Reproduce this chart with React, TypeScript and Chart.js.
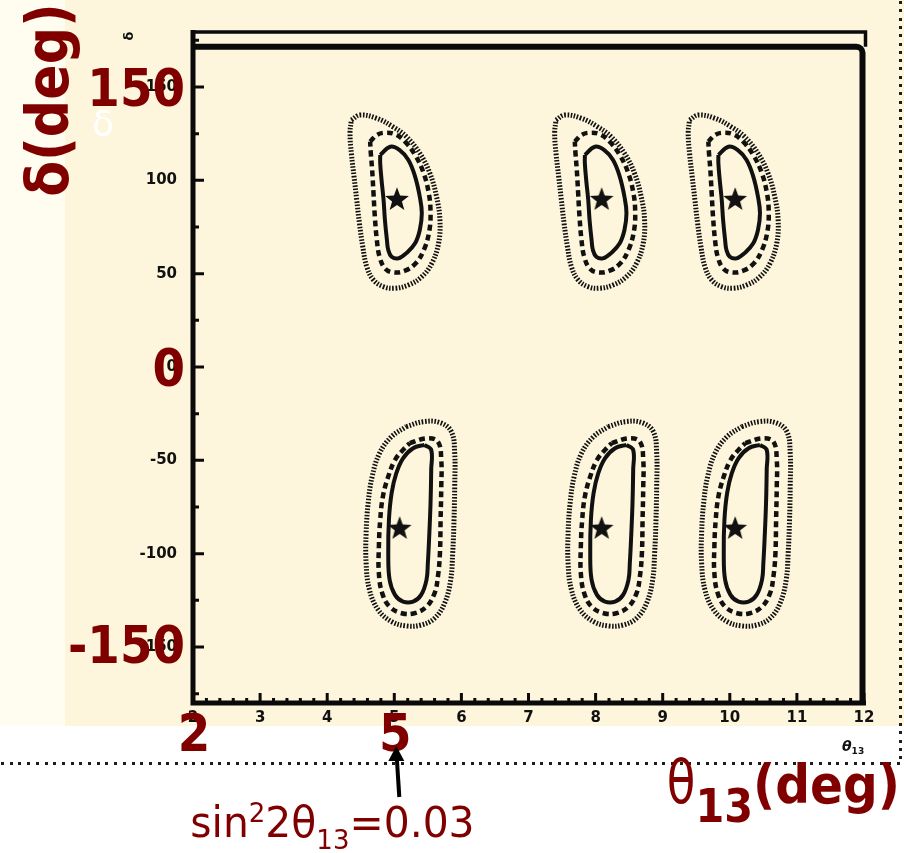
import React, { useEffect, useRef } from "react";
import { Chart, registerables } from "chart.js";

Chart.register(...registerables);

// Axis ranges and tick values
const xRange = [2, 12];
const yRange = [-180, 180];
const xTicks = [2, 3, 4, 5, 6, 7, 8, 9, 10, 11, 12];
const yTicks = [-150, -100, -50, 0, 50, 100, 150];
const yMinorTicks = [-175, -125, -75, -25, 25, 75, 125, 175];
const xMinorStep = 0.2;
const yFrameInner = 171.5;

// Best-fit points (theta13, delta) of the degenerate solutions
const upperTheta = [5.04, 8.09, 10.08];
const lowerTheta = [5.08, 8.09, 10.08];
const upperDelta = 90;
const lowerDelta = -86.2;

// Contours as offsets (d theta13, d delta) from the best-fit point: upper row
const upperInner: [number, number][] = [
  [-0.25, 23.6], [-0.1, 28.0], [0.04, 26.2], [0.17, 20.9], [0.27, 12.0], [0.34, 1.2],
  [0.37, -7.7], [0.34, -16.6], [0.27, -23.7], [0.14, -29.0], [0.02, -31.8], [-0.08, -30.9],
  [-0.13, -27.3], [-0.15, -22.0], [-0.18, -11.2], [-0.2, -0.5], [-0.23, 10.2], [-0.25, 19.1],
];
const upperMiddle: [number, number][] = [
  [-0.4, 30.7], [-0.3, 34.3], [-0.18, 35.5], [-0.03, 34.7], [0.12, 30.7], [0.27, 23.6],
  [0.39, 14.6], [0.47, 3.9], [0.5, -6.8], [0.48, -17.5], [0.4, -27.3], [0.28, -34.4],
  [0.12, -38.4], [-0.06, -39.3], [-0.18, -37.1], [-0.26, -30.9], [-0.3, -22.0], [-0.33, -9.5],
  [-0.35, 3.1], [-0.37, 15.5], [-0.39, 24.5],
];
const upperOuter: [number, number][] = [
  [-0.68, 42.3], [-0.55, 45.0], [-0.3, 43.2], [-0.06, 38.7], [0.14, 33.4], [0.34, 24.5],
  [0.49, 13.8], [0.59, 1.2], [0.64, -11.2], [0.62, -23.7], [0.52, -34.4], [0.37, -41.6],
  [0.17, -46.1], [-0.03, -47.8], [-0.2, -47.0], [-0.35, -43.4], [-0.45, -36.3], [-0.51, -25.5],
  [-0.56, -13.0], [-0.6, -0.5], [-0.64, 11.9], [-0.68, 24.5], [-0.7, 35.2],
];

// Contours as offsets from the best-fit point: lower row
const lowerInner: [number, number][] = [
  [0.37, 44.5], [0.47, 41.8], [0.47, 31.1], [0.46, 13.2], [0.44, -4.7], [0.42, -18.9],
  [0.4, -27.8], [0.32, -35.9], [0.2, -39.5], [0.05, -39.5], [-0.07, -35.9], [-0.15, -27.8],
  [-0.17, -13.6], [-0.16, 4.3], [-0.12, 18.6], [-0.05, 29.3], [0.05, 37.3], [0.2, 42.7],
];
const lowerMiddle: [number, number][] = [
  [0.15, 45.4], [0.4, 48.0], [0.57, 46.2], [0.62, 36.4], [0.62, 22.1], [0.61, 4.3],
  [0.6, -13.6], [0.57, -26.1], [0.52, -35.0], [0.4, -42.2], [0.22, -45.7], [0.03, -45.7],
  [-0.15, -42.2], [-0.26, -35.0], [-0.31, -24.3], [-0.31, -10.0], [-0.29, 4.3], [-0.25, 16.8],
  [-0.17, 27.5], [-0.07, 36.4], [0.05, 41.8],
];
const lowerOuter: [number, number][] = [
  [0.1, 54.3], [0.35, 56.9], [0.6, 56.4], [0.77, 51.6], [0.82, 40.0], [0.82, 22.1],
  [0.81, 4.3], [0.79, -13.6], [0.76, -27.9], [0.67, -40.3], [0.52, -48.4], [0.32, -52.0],
  [0.1, -52.5], [-0.12, -50.2], [-0.32, -43.9], [-0.45, -33.2], [-0.5, -18.9], [-0.5, -2.8],
  [-0.47, 13.2], [-0.41, 27.5], [-0.3, 40.0], [-0.12, 48.9],
];

// Overlay labels
const bigYLabels = [150, 0, -150];
const bigXLabels = [2, 5];
const markedTheta = 5;
const yTitle = "δ(deg)";

const MAROON = "#800000";
const bigFont = (size: number) =>
  `bold ${size}px "DejaVu Sans Condensed", "DejaVu Sans", sans-serif`;

const lineStyles = [
  { width: 4, dash: [] as number[] },
  { width: 4.5, dash: [6, 4] },
  { width: 5, dash: [1.6, 1.6] },
];

function makeStar(): HTMLCanvasElement {
  const c = document.createElement("canvas");
  c.width = 28;
  c.height = 28;
  const g = c.getContext("2d")!;
  g.fillStyle = "#111";
  g.beginPath();
  for (let i = 0; i < 10; i++) {
    const r = i % 2 === 0 ? 12.5 : 5.2;
    const a = -Math.PI / 2 + (i * Math.PI) / 5;
    const px = 14 + r * Math.cos(a);
    const py = 14.8 + r * Math.sin(a);
    if (i === 0) g.moveTo(px, py);
    else g.lineTo(px, py);
  }
  g.closePath();
  g.fill();
  return c;
}

type Run = { text: string; font: string; dy: number; sx?: number };

function runsWidth(ctx: CanvasRenderingContext2D, runs: Run[]) {
  let w = 0;
  for (const r of runs) {
    ctx.font = r.font;
    w += ctx.measureText(r.text).width * (r.sx ?? 1);
  }
  return w;
}

function drawRuns(ctx: CanvasRenderingContext2D, x: number, y: number, runs: Run[]) {
  for (const r of runs) {
    ctx.font = r.font;
    const sx = r.sx ?? 1;
    ctx.save();
    ctx.translate(x, y + r.dy);
    ctx.scale(sx, 1);
    ctx.fillText(r.text, 0, 0);
    ctx.restore();
    x += ctx.measureText(r.text).width * sx;
  }
}

const decorPlugin = {
  id: "decor",
  beforeDraw(chart: any) {
    const { ctx, chartArea: ca, width, height } = chart;
    ctx.save();
    ctx.fillStyle = "#ffffff";
    ctx.fillRect(0, 0, width, height);
    const creamBottom = ca.bottom + 23;
    ctx.fillStyle = "#fdf6dc";
    ctx.fillRect(0, 0, width, creamBottom);
    ctx.fillStyle = "#fffdef";
    ctx.fillRect(0, 0, 65, creamBottom);
    // dotted slide border
    ctx.fillStyle = "#1c1c1c";
    const dy = ca.bottom + 59;
    for (let x = 1; x < width - 6; x += 8.7) ctx.fillRect(Math.round(x), dy, 3, 3);
    for (let y = 1; y < dy; y += 8.3) ctx.fillRect(width - 5, Math.round(y), 3, 3);
    ctx.restore();
  },
  afterDraw(chart: any) {
    const { ctx, width } = chart;
    const xs = chart.scales.x;
    const ys = chart.scales.y;
    const L = xs.getPixelForValue(xRange[0]);
    const R = xs.getPixelForValue(xRange[1]);
    const T = ys.getPixelForValue(yRange[1]);
    const B = ys.getPixelForValue(yRange[0]);
    const Ti = ys.getPixelForValue(yFrameInner);

    ctx.save();
    ctx.strokeStyle = "#0a0a0a";
    ctx.lineCap = "butt";

    // frame
    ctx.lineWidth = 3.5;
    ctx.beginPath();
    ctx.moveTo(L, T + 1);
    ctx.lineTo(R + 1.5, T + 1);
    ctx.lineTo(R + 1.5, Ti);
    ctx.stroke();

    ctx.lineWidth = 6;
    ctx.beginPath();
    ctx.moveTo(L, Ti);
    ctx.arcTo(R - 1.5, Ti, R - 1.5, B, 6);
    ctx.lineTo(R - 1.5, B);
    ctx.stroke();

    ctx.lineWidth = 5;
    ctx.beginPath();
    ctx.moveTo(L, T - 1);
    ctx.lineTo(L, B + 2.5);
    ctx.moveTo(L - 2.5, B);
    ctx.lineTo(R + 2, B);
    ctx.stroke();

    // inward ticks
    ctx.lineWidth = 3;
    ctx.beginPath();
    for (const v of yTicks) {
      const p = ys.getPixelForValue(v);
      ctx.moveTo(L, p);
      ctx.lineTo(L + 11, p);
    }
    for (const v of yMinorTicks) {
      const p = ys.getPixelForValue(v);
      ctx.moveTo(L, p);
      ctx.lineTo(L + 6, p);
    }
    for (const v of xTicks) {
      const p = xs.getPixelForValue(v);
      ctx.moveTo(p, B);
      ctx.lineTo(p, B - 10);
    }
    for (let v = xRange[0] + xMinorStep; v < xRange[1] - 1e-6; v += xMinorStep) {
      if (Math.abs(v - Math.round(v)) < 1e-6) continue;
      const p = xs.getPixelForValue(v);
      ctx.moveTo(p, B);
      ctx.lineTo(p, B - 5);
    }
    ctx.stroke();

    // small axis titles of the original plot
    ctx.fillStyle = "#111";
    ctx.save();
    ctx.translate(130, 36);
    ctx.rotate(-Math.PI / 2);
    ctx.font = 'bold 13px "DejaVu Sans", sans-serif';
    ctx.textAlign = "center";
    ctx.textBaseline = "middle";
    ctx.fillText("δ", 0, 0);
    ctx.restore();
    drawRuns(ctx, R - 22, B + 48, [
      { text: "θ", font: 'italic bold 14px "DejaVu Sans", sans-serif', dy: 0 },
      { text: "13", font: 'bold 9px "DejaVu Sans", sans-serif', dy: 3 },
    ]);

    // white delta from the slide
    ctx.fillStyle = "#ffffff";
    ctx.font = '36px "DejaVu Sans", sans-serif';
    ctx.textAlign = "center";
    ctx.textBaseline = "alphabetic";
    ctx.fillText("δ", 103, 136);

    // large maroon overlay labels
    ctx.fillStyle = MAROON;
    ctx.textAlign = "right";
    ctx.font = bigFont(52);
    for (const v of bigYLabels) {
      const p = ys.getPixelForValue(v) - (v < 0 ? 3 : 0);
      ctx.fillText(String(v), L - 8, p + 19);
    }
    ctx.textAlign = "center";
    for (const v of bigXLabels) {
      ctx.fillText(String(v), xs.getPixelForValue(v) + 1, B + 48);
    }

    ctx.save();
    ctx.translate(68, 100);
    ctx.rotate(-Math.PI / 2);
    ctx.font = bigFont(58);
    ctx.textAlign = "center";
    ctx.fillText(yTitle, 0, 0);
    ctx.restore();

    // theta13(deg) title
    ctx.textAlign = "left";
    const titleRuns: Run[] = [
      { text: "θ", font: '60px "DejaVu Sans", sans-serif', dy: 0, sx: 0.78 },
      { text: "13", font: bigFont(46), dy: 19 },
      { text: "(deg)", font: bigFont(54), dy: 0 },
    ];
    const tw = runsWidth(ctx, titleRuns);
    drawRuns(ctx, width - 4 - tw, B + 100, titleRuns);

    // arrow to the marked theta13
    const ax = xs.getPixelForValue(markedTheta);
    ctx.strokeStyle = "#000";
    ctx.fillStyle = "#000";
    ctx.lineWidth = 4;
    ctx.beginPath();
    ctx.moveTo(ax + 5, B + 94);
    ctx.lineTo(ax + 2.5, B + 55);
    ctx.stroke();
    ctx.beginPath();
    ctx.moveTo(ax + 2, B + 43);
    ctx.lineTo(ax + 10, B + 58);
    ctx.lineTo(ax - 6, B + 58);
    ctx.closePath();
    ctx.fill();

    // sin^2 2theta13 annotation
    ctx.fillStyle = MAROON;
    const f43 = '43px "DejaVu Sans", sans-serif';
    const f26 = '26px "DejaVu Sans", sans-serif';
    const noteRuns: Run[] = [
      { text: "sin", font: f43, dy: 0, sx: 0.95 },
      { text: "2", font: f26, dy: -15 },
      { text: "2θ", font: f43, dy: 0, sx: 0.95 },
      { text: "13", font: f26, dy: 12 },
      { text: "=0.03", font: f43, dy: 0, sx: 0.95 },
    ];
    drawRuns(ctx, ax - 204, B + 134, noteRuns);
    ctx.restore();
  },
};

function buildDatasets(star: HTMLCanvasElement) {
  const rows = [
    { thetas: upperTheta, delta: upperDelta, shapes: [upperInner, upperMiddle, upperOuter] },
    { thetas: lowerTheta, delta: lowerDelta, shapes: [lowerInner, lowerMiddle, lowerOuter] },
  ];
  const datasets: any[] = [];
  for (const row of rows) {
    for (const t of row.thetas) {
      row.shapes.forEach((shape, k) => {
        const pts = shape.map(([dx, dy]) => ({ x: t + dx, y: row.delta + dy }));
        pts.push(pts[0]);
        datasets.push({
          data: pts,
          showLine: true,
          borderColor: "#111",
          borderWidth: lineStyles[k].width,
          borderDash: lineStyles[k].dash,
          borderCapStyle: "butt",
          borderJoinStyle: "round",
          tension: 0.4,
          pointRadius: 0,
          pointHoverRadius: 0,
          fill: false,
        });
      });
    }
  }
  const stars = [
    ...upperTheta.map((t) => ({ x: t, y: upperDelta })),
    ...lowerTheta.map((t) => ({ x: t, y: lowerDelta })),
  ];
  datasets.push({
    data: stars,
    showLine: false,
    pointStyle: star,
    pointRadius: 12,
    backgroundColor: "#111",
    borderColor: "#111",
  });
  return datasets;
}

export default function App() {
  const ref = useRef<HTMLCanvasElement | null>(null);

  useEffect(() => {
    if (!ref.current) return;
    const star = makeStar();
    const tickFont = { family: '"DejaVu Sans", sans-serif', weight: "bold" as const, size: 15 };
    const chart = new Chart(ref.current, {
      type: "scatter",
      data: { datasets: buildDatasets(star) },
      options: {
        responsive: false,
        animation: false,
        devicePixelRatio: 1,
        events: [],
        layout: { padding: { top: 31, right: 40, left: 0, bottom: 0 } },
        plugins: { legend: { display: false }, tooltip: { enabled: false } },
        scales: {
          x: {
            type: "linear",
            min: xRange[0],
            max: xRange[1],
            grid: { display: false, drawTicks: false },
            border: { display: false },
            ticks: {
              color: "#111",
              font: tickFont,
              padding: 6,
              autoSkip: false,
              maxRotation: 0,
              callback: (v: any) => String(v),
            },
            afterBuildTicks: (s: any) => {
              s.ticks = xTicks.map((v) => ({ value: v }));
            },
            afterFit: (s: any) => {
              s.height = 150;
            },
          },
          y: {
            type: "linear",
            min: yRange[0],
            max: yRange[1],
            grid: { display: false, drawTicks: false },
            border: { display: false },
            ticks: {
              color: "#111",
              font: tickFont,
              padding: 16,
              autoSkip: false,
              callback: (v: any) => String(v),
            },
            afterBuildTicks: (s: any) => {
              s.ticks = yTicks.map((v) => ({ value: v }));
            },
            afterFit: (s: any) => {
              s.width = 193;
            },
          },
        },
      },
      plugins: [decorPlugin],
    });
    return () => chart.destroy();
  }, []);

  return (
    <div style={{ position: "absolute", left: 0, top: 0, width: 904, height: 853 }}>
      <canvas ref={ref} width={904} height={853} style={{ display: "block" }} />
    </div>
  );
}
